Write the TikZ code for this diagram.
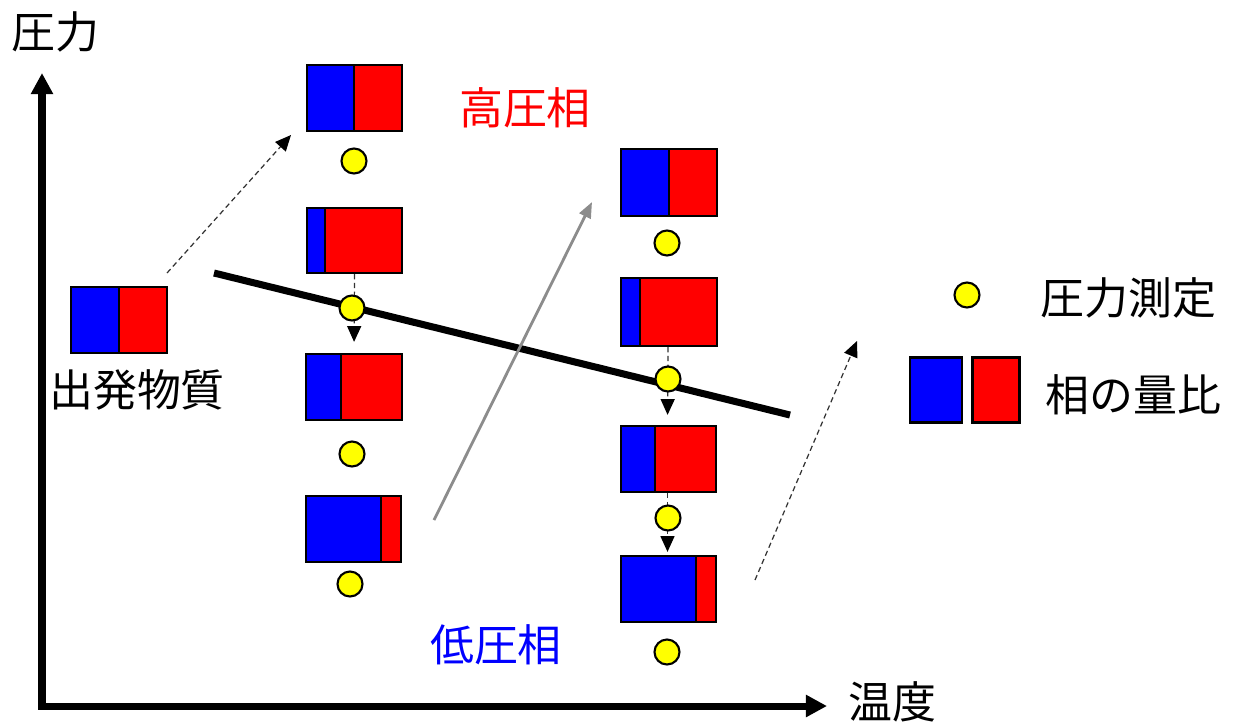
\documentclass[tikz,border=0pt]{standalone}
\usepackage{fontspec}
\newfontfamily\jp{Noto Sans CJK JP}
\usetikzlibrary{arrows.meta,calc}
\definecolor{pblue}{RGB}{0,0,255}
\definecolor{pred}{RGB}{255,0,0}
\definecolor{pyellow}{RGB}{255,255,0}
\definecolor{pgray}{RGB}{140,140,140}
\tikzset{
  boxline/.style={draw=black,line width=1.3pt},
  dot/.style={circle,draw=black,line width=1.2pt,fill=pyellow,minimum size=0.5cm,inner sep=0pt},
  axis/.style={line width=4pt,-{Triangle[length=12pt,width=12pt]}},
  phaseline/.style={line width=4pt},
  stepdash/.style={line width=0.7pt,draw=black!80,dash pattern=on 3pt off 2pt,-{Triangle[length=9pt,width=8pt,fill=black,color=black]}},
  movearrow/.style={line width=1.6pt,draw=pgray,-{Triangle[length=9pt,width=7pt]}},
  jptext/.style={font=\jp\fontsize{25}{30}\selectfont,inner sep=0pt},
}
\newcommand{\pbox}[6]{%
  \fill[pblue] (#2,#3) rectangle (#6,#5);
  \fill[pred] (#6,#3) rectangle (#4,#5);
  \draw[boxline] (#6,#3) -- (#6,#5);
  \node[boxline,rectangle,inner sep=0pt,minimum width={(#4-#2)*0.02cm},minimum height={(#5-#3)*0.02cm}] (#1) at ({(#2+#4)/2},{(#3+#5)/2}) {};
}
\begin{document}
\begin{tikzpicture}[x=0.02cm,y=-0.02cm]
\useasboundingbox (0,0) rectangle (1237,725);
% axes
\coordinate (origin) at (42,706);
\coordinate (ytip) at (42,73);
\coordinate (xtip) at (827,706);
\draw[line width=4pt] (42,708) -- (42,704);
\draw[axis] (origin) -- (ytip);
\draw[axis] ([xshift=-2pt]origin) -- (xtip);
\node[jptext] (plabel) at (55,32) {圧力};
\node[jptext] (tlabel) at (892,702) {温度};
% phase boundary
\coordinate (pl1) at (214,273);
\coordinate (pl2) at (790,415);
\draw[phaseline] (pl1) -- (pl2);
% gray arrow
\coordinate (g1) at (434,520);
\coordinate (g2) at (592,202);
\draw[movearrow] (g1) -- (g2);
% dashed diagonal arrows
\coordinate (da1) at (167,273);
\coordinate (da2) at (291,135);
\draw[stepdash] (da1) -- (da2);
\coordinate (db1) at (755,580);
\coordinate (db2) at (857,341);
\draw[stepdash] (db1) -- (db2);
% starting material
\pbox{s}{71}{287}{167}{353}{119}
\node[jptext] (slabel) at (137,390) {出発物質};
% column 1
\pbox{a}{307}{65}{402}{131}{354}
\pbox{b}{307}{208}{402}{273}{325}
\pbox{c}{306}{354}{402}{420}{341}
\pbox{d}{306}{496}{401}{562}{381}
% column 2
\pbox{e}{621}{149}{717}{216}{669}
\pbox{f}{621}{278}{717}{346}{640}
\pbox{g}{621}{426}{716}{492}{655}
\pbox{h}{621}{556}{716}{622}{696}
% step arrows
\draw[stepdash,shorten >=11*0.02cm] (b.south) -- (c.north);
\draw[stepdash,shorten >=10*0.02cm] ([xshift=-0.02cm]f.south) -- ([xshift=-0.02cm]g.north);
\draw[stepdash,shorten >=3*0.02cm] ([xshift=-0.02cm]g.south) -- ([xshift=-0.02cm]h.north);
% dots
\node[dot] (da) at (354,161) {};
\node[dot] (dbb) at (352,308) {};
\node[dot] (dc) at (352,454) {};
\node[dot] (dd) at (350,584) {};
\node[dot] (de) at (667,243) {};
\node[dot] (df) at (668,379) {};
\node[dot] (dg) at (668,518) {};
\node[dot] (dh) at (667,652) {};
% phase labels
\node[jptext,text=pred] (hp) at (525,108) {高圧相};
\node[jptext,text=pblue] (lp) at (496,645) {低圧相};
% legend
\node[dot] (ldot) at (967,295) {};
\node[jptext,anchor=west] (ltext1) at (1040,298) {圧力測定};
\node[boxline,fill=pblue,inner sep=0pt,minimum width={52*0.02cm},minimum height={65*0.02cm}] (lb) at (936,390) {};
\node[boxline,fill=pred,inner sep=0pt,minimum width={47*0.02cm},minimum height={65*0.02cm}] (lr) at (996,390) {};
\node[jptext,anchor=west] (ltext2) at (1045,395) {相の量比};
\end{tikzpicture}
\end{document}
